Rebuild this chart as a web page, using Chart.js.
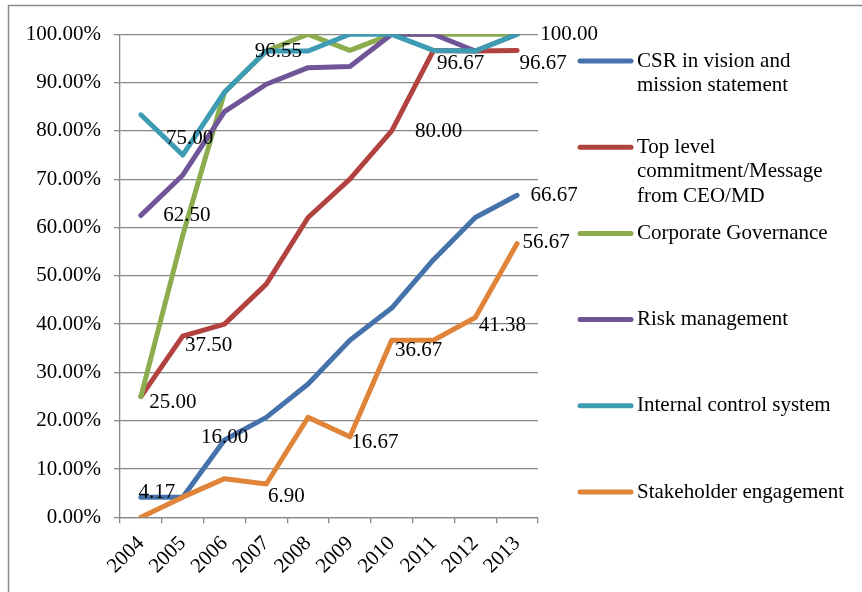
<!DOCTYPE html>
<html>
<head>
<meta charset="utf-8">
<title>CSR disclosure trend 2004-2013</title>
<script src="https://cdn.jsdelivr.net/npm/chart.js@4.4.0/dist/chart.umd.min.js"></script>
<style>
  html, body { margin: 0; padding: 0; background: #fff; }
  #wrap { position: relative; width: 862px; height: 592px; }
</style>
</head>
<body>
<div id="wrap"><canvas id="trendChart" width="862" height="592"></canvas></div>
<script>
// Share of companies disclosing each item, per year (%)
const years = ['2004', '2005', '2006', '2007', '2008', '2009', '2010', '2011', '2012', '2013'];
const csrVision = [4.17, 4.17, 16.00, 20.69, 27.59, 36.67, 43.33, 53.33, 62.07, 66.67];
const topCommitment = [25.00, 37.50, 40.00, 48.28, 62.07, 70.00, 80.00, 96.67, 96.55, 96.67];
const governance = [25.00, 58.33, 88.00, 96.55, 100.00, 96.67, 100.00, 100.00, 100.00, 100.00];
const riskManagement = [62.50, 70.83, 84.00, 89.66, 93.10, 93.33, 100.00, 100.00, 96.55, 100.00];
const internalControl = [83.33, 75.00, 88.00, 96.55, 96.55, 100.00, 100.00, 96.67, 96.55, 100.00];
const stakeholder = [0.00, 4.17, 8.00, 6.90, 20.69, 16.67, 36.67, 36.67, 41.38, 56.67];
const yTicks = [0, 10, 20, 30, 40, 50, 60, 70, 80, 90, 100];

const seriesNames = [
    ['CSR in vision and', 'mission statement'],
    ['Top level', 'commitment/Message', 'from CEO/MD'],
    ['Corporate Governance'],
    ['Risk management'],
    ['Internal control system'],
    ['Stakeholder engagement']
];
const seriesData = [csrVision, topCommitment, governance, riskManagement, internalControl, stakeholder];
const seriesColors = ['#4672ab', '#b2423f', '#8cad4e', '#6f5597', '#3d9bb4', '#e0843a'];

// which points carry a value label, and where the text sits relative to the point
const valueLabels = [
    { series: 0, index: 0, dx: 16, dy: -5 },
    { series: 0, index: 2, dx: 0, dy: -3 },
    { series: 0, index: 9, dx: 37, dy: 0 },
    { series: 1, index: 0, dx: 32, dy: 6 },
    { series: 1, index: 1, dx: 26, dy: 9 },
    { series: 1, index: 6, dx: 47, dy: 1 },
    { series: 1, index: 7, dx: 27, dy: 13 },
    { series: 1, index: 9, dx: 26, dy: 13 },
    { series: 3, index: 0, dx: 46, dy: 0 },
    { series: 4, index: 1, dx: 7, dy: -17 },
    { series: 4, index: 3, dx: 12, dy: 1 },
    { series: 4, index: 9, dx: 52, dy: 0 },
    { series: 5, index: 3, dx: 20, dy: 13 },
    { series: 5, index: 5, dx: 25, dy: 6 },
    { series: 5, index: 6, dx: 27, dy: 10 },
    { series: 5, index: 8, dx: 27, dy: 8 },
    { series: 5, index: 9, dx: 29, dy: -1 }
];

const serif = "'Liberation Serif', 'Times New Roman', serif";
const fontSize = 21;
const gridColor = '#878787';

Chart.defaults.font.family = serif;
Chart.defaults.font.size = fontSize;
Chart.defaults.color = '#000';

// thin frame along the top and left edge
const framePlugin = {
    id: 'frame',
    beforeDraw(chart) {
        const ctx = chart.ctx;
        ctx.save();
        ctx.strokeStyle = '#8a8a8a';
        ctx.lineWidth = 1.5;
        ctx.beginPath();
        ctx.moveTo(8.5, 592);
        ctx.lineTo(8.5, 5.5);
        ctx.lineTo(862, 5.5);
        ctx.stroke();
        ctx.restore();
    }
};

// numbers next to selected points
const valueLabelPlugin = {
    id: 'valueLabels',
    afterDatasetsDraw(chart) {
        const ctx = chart.ctx;
        ctx.save();
        ctx.font = fontSize + 'px ' + serif;
        ctx.fillStyle = '#000';
        ctx.textAlign = 'center';
        ctx.textBaseline = 'middle';
        valueLabels.forEach(l => {
            const pt = chart.getDatasetMeta(l.series).data[l.index];
            const value = seriesData[l.series][l.index];
            ctx.fillText(value.toFixed(2), pt.x + l.dx, pt.y + l.dy);
        });
        ctx.restore();
    }
};

// legend on the right, one entry per series with wrapped names
const sideLegendPlugin = {
    id: 'sideLegend',
    afterDraw(chart) {
        const ctx = chart.ctx;
        const firstY = 61, step = 86.2, lineGap = 24.5;
        ctx.save();
        ctx.font = fontSize + 'px ' + serif;
        ctx.fillStyle = '#000';
        ctx.textAlign = 'left';
        ctx.textBaseline = 'middle';
        ctx.lineCap = 'round';
        ctx.lineWidth = 5;
        seriesNames.forEach((lines, i) => {
            const y = firstY + i * step;
            ctx.strokeStyle = seriesColors[i];
            ctx.beginPath();
            ctx.moveTo(580, y);
            ctx.lineTo(631, y);
            ctx.stroke();
            lines.forEach((t, j) => ctx.fillText(t, 637, y + j * lineGap));
        });
        ctx.restore();
    }
};

const ctx = document.getElementById('trendChart').getContext('2d');
new Chart(ctx, {
    type: 'line',
    data: {
        labels: years,
        datasets: seriesData.map((d, i) => ({
            label: seriesNames[i].join(' '),
            data: d,
            borderColor: seriesColors[i],
            backgroundColor: seriesColors[i],
            borderWidth: 5,
            borderJoinStyle: 'round',
            borderCapStyle: 'round',
            pointRadius: 0,
            tension: 0,
            fill: false,
            order: seriesData.length - i
        }))
    },
    options: {
        responsive: false,
        devicePixelRatio: 1,
        animation: false,
        layout: { padding: { top: 34.3, right: 324, bottom: 0, left: 0 } },
        plugins: {
            legend: { display: false },
            tooltip: { enabled: false }
        },
        scales: {
            x: {
                offset: true,
                grid: {
                    display: true,
                    drawOnChartArea: false,
                    offset: true,
                    color: gridColor,
                    lineWidth: 1.3,
                    tickLength: 6
                },
                border: { display: true, color: gridColor, width: 1.3 },
                ticks: {
                    autoSkip: false,
                    maxRotation: 45,
                    minRotation: 45,
                    color: '#000',
                    padding: 8,
                    font: { family: serif, size: fontSize }
                },
                afterFit: s => { s.height = 592 - 517.3; }
            },
            y: {
                min: 0,
                max: 100,
                afterBuildTicks: s => { s.ticks = yTicks.map(v => ({ value: v })); },
                ticks: {
                    color: '#000',
                    padding: 13,
                    font: { family: serif, size: fontSize },
                    callback: v => v.toFixed(2) + '%'
                },
                grid: { color: gridColor, lineWidth: 1.3, tickLength: 6 },
                border: { display: true, color: gridColor, width: 1.3 },
                afterFit: s => { s.width = 120; }
            }
        }
    },
    plugins: [framePlugin, valueLabelPlugin, sideLegendPlugin]
});
</script>
</body>
</html>
